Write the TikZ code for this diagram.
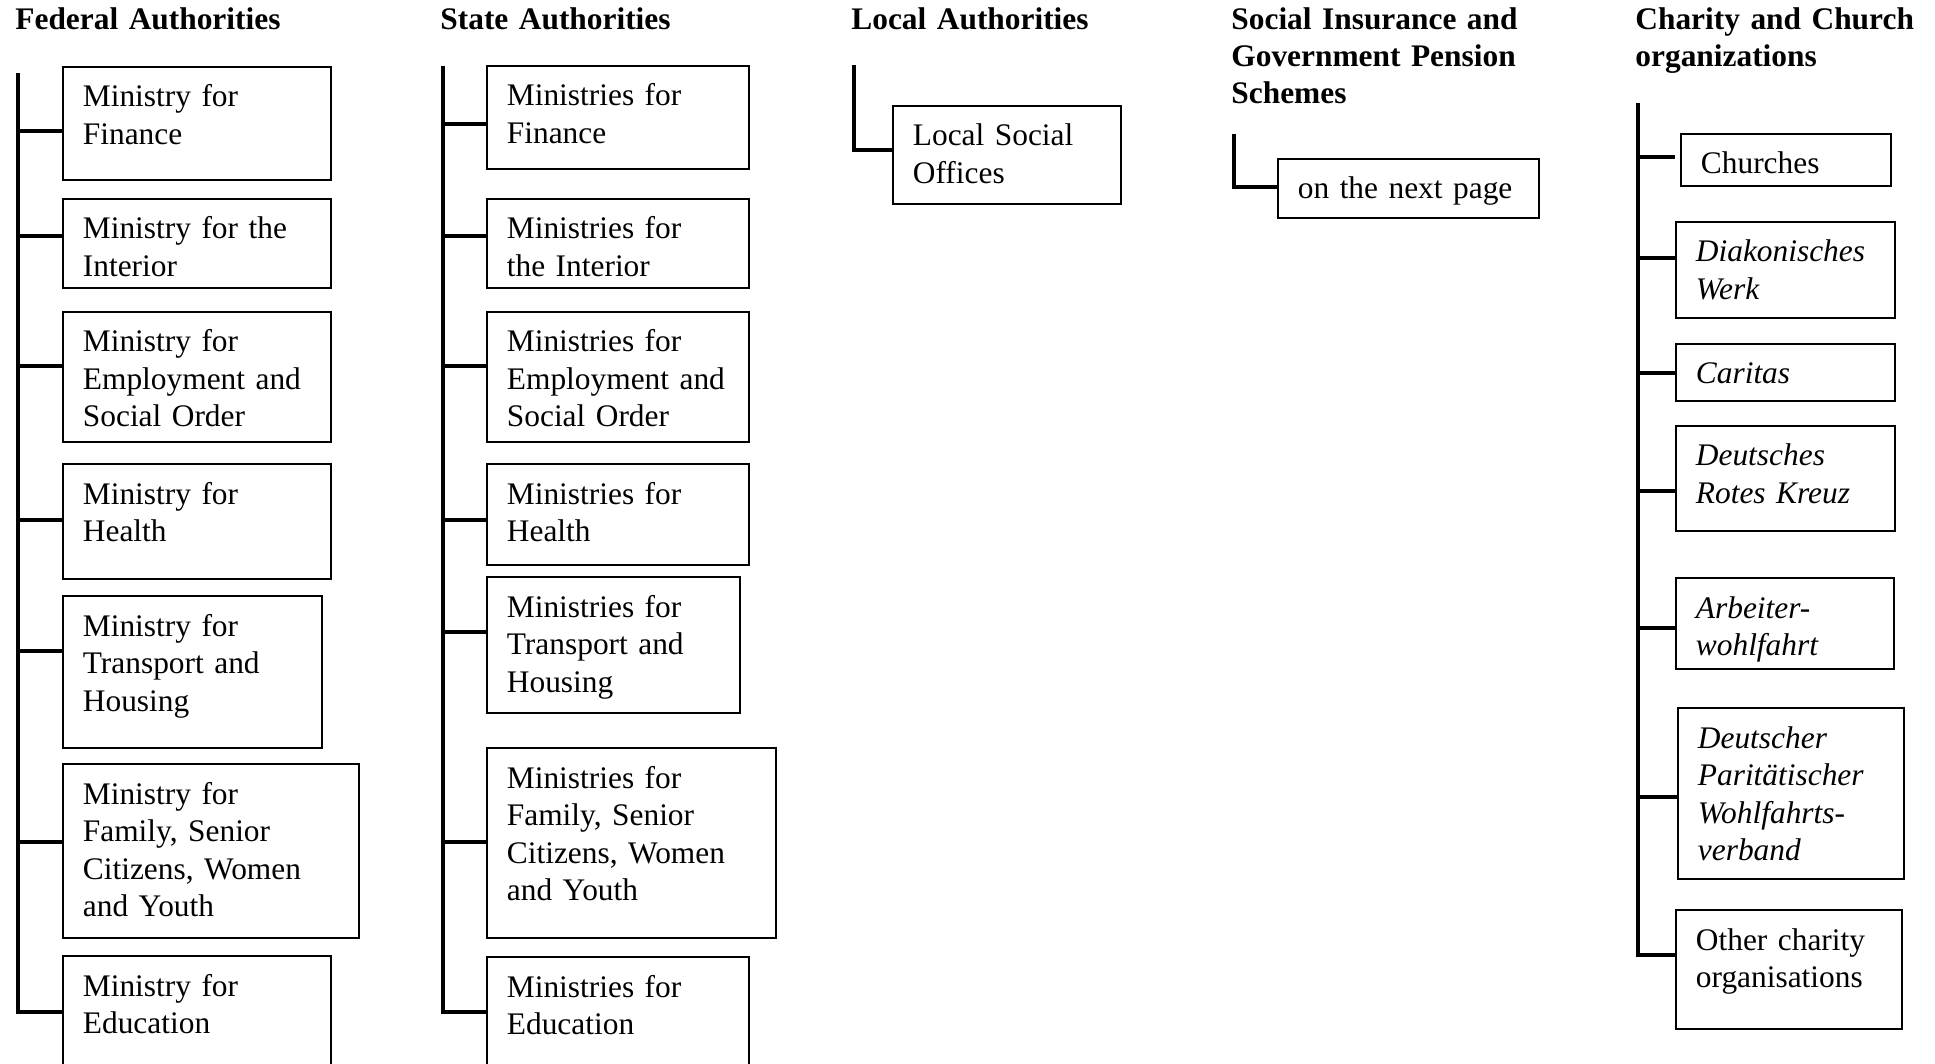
\documentclass[tikz,border=0pt]{standalone}
\usepackage{fontspec}
\setmainfont{Liberation Serif}
\tikzset{
  boxst/.style={draw, line width=0.9pt, inner sep=0pt, anchor=north west},
  txt/.style={anchor=base west, inner sep=0pt, text width=200pt, align=left, font=\fontsize{15.7}{18.75}\selectfont},
  ttl/.style={anchor=base west, inner sep=0pt, text width=200pt, align=left, font=\fontsize{15.7}{18.5}\selectfont\bfseries},
  conn/.style={line width=1.75pt, line join=miter},
}
\newcommand\orgbox[6]{%
  \node[boxst, minimum width={(#4-#2)*0.5pt}, minimum height={(#5-#3)*0.5pt}] (#1) at (#2,#3) {};
  \node[txt] (#1t) at ([xshift=10.25pt,yshift=-20.5pt]#1.north west) {#6};
}
\begin{document}
\begin{tikzpicture}[x=0.5pt,y=-0.5pt]
\useasboundingbox (0,0) rectangle (1935,1064);
\clip (0,0) rectangle (1935,1064);

% Titles
\node[ttl] (tfed) at (15,30) {Federal Authorities};
\node[ttl] (tsta) at (440,30) {State Authorities};
\node[ttl] (tloc) at (851,30) {Local Authorities};
\node[ttl] (tsoc) at (1231,30) {Social Insurance and\\Government Pension\\Schemes};
\node[ttl] (tcha) at (1635,30) {Charity and Church\\organizations};

% Federal
\orgbox{f1}{62}{66}{330}{179}{Ministry for\\Finance}
\orgbox{f2}{62}{198}{330}{287}{Ministry for the\\Interior}
\orgbox{f3}{62}{311}{330}{441}{Ministry for\\Employment and\\Social Order}
\orgbox{f4}{62}{463}{330}{578}{Ministry for\\Health}
\orgbox{f5}{62}{595}{321}{747}{Ministry for\\Transport and\\Housing}
\orgbox{f6}{62}{763}{358}{937}{Ministry for\\Family, Senior\\Citizens, Women\\and Youth}
\orgbox{f7}{62}{955}{330}{1100}{Ministry for\\Education}
\coordinate (ftop) at (18,73);
\coordinate (fj1) at (18,131);
\coordinate (fj2) at (18,236);
\coordinate (fj3) at (18,366);
\coordinate (fj4) at (18,520);
\coordinate (fj5) at (18,651);
\coordinate (fj6) at (18,842);
\coordinate (fj7) at (18,1012);
\draw[conn] (ftop) -- (fj7) -- (fj7 -| f7.west);
\foreach \i in {1,...,6} { \draw[conn] (fj\i) -- (fj\i -| f\i.west); }

% State
\orgbox{s1}{486}{65}{748}{168}{Ministries for\\Finance}
\orgbox{s2}{486}{198}{748}{287}{Ministries for\\the Interior}
\orgbox{s3}{486}{311}{748}{441}{Ministries for\\Employment and\\Social Order}
\orgbox{s4}{486}{463}{748}{564}{Ministries for\\Health}
\orgbox{s5}{486}{576}{739}{712}{Ministries for\\Transport and\\Housing}
\orgbox{s6}{486}{747}{775}{937}{Ministries for\\Family, Senior\\Citizens, Women\\and Youth}
\orgbox{s7}{486}{956}{748}{1100}{Ministries for\\Education}
\coordinate (stop) at (443,66);
\coordinate (sj1) at (443,124);
\coordinate (sj2) at (443,236);
\coordinate (sj3) at (443,366);
\coordinate (sj4) at (443,520);
\coordinate (sj5) at (443,632);
\coordinate (sj6) at (443,842);
\coordinate (sj7) at (443,1012);
\draw[conn] (stop) -- (sj7) -- (sj7 -| s7.west);
\foreach \i in {1,...,6} { \draw[conn] (sj\i) -- (sj\i -| s\i.west); }

% Local
\orgbox{l1}{892}{105}{1120}{203}{Local Social\\Offices}
\coordinate (ltop) at (854,65);
\coordinate (lj1) at (854,150);
\draw[conn] (ltop) -- (lj1) -- (lj1 -| l1.west);

% Social insurance
\orgbox{p1}{1277}{158}{1538}{217}{on the next page}
\coordinate (ptop) at (1234,134);
\coordinate (pj1) at (1234,187);
\draw[conn] (ptop) -- (pj1) -- (pj1 -| p1.west);

% Charity
\orgbox{c1}{1680}{133}{1890}{185}{Churches}
\orgbox{c2}{1675}{221}{1894}{317}{\itshape Diakonisches\\Werk}
\orgbox{c3}{1675}{343}{1894}{400}{\itshape Caritas}
\orgbox{c4}{1675}{425}{1894}{530}{\itshape Deutsches\\Rotes Kreuz}
\orgbox{c5}{1675}{577}{1893}{668}{\itshape Arbeiter-\\wohlfahrt}
\orgbox{c6}{1677}{707}{1903}{878}{\itshape Deutscher\\Paritätischer\\Wohlfahrts-\\verband}
\orgbox{c7}{1675}{909}{1901}{1028}{Other charity\\organisations}
\coordinate (ctop) at (1638,103);
\coordinate (cj1) at (1638,157);
\coordinate (cj2) at (1638,258);
\coordinate (cj3) at (1638,373);
\coordinate (cj4) at (1638,491);
\coordinate (cj5) at (1638,628);
\coordinate (cj6) at (1638,797);
\coordinate (cj7) at (1638,955);
\draw[conn] (ctop) -- (cj7) -- (cj7 -| c7.west);
\draw[conn, shorten >=2.5pt] (cj1) -- (cj1 -| c1.west);
\foreach \i in {2,...,6} { \draw[conn] (cj\i) -- (cj\i -| c\i.west); }
\end{tikzpicture}
\end{document}
